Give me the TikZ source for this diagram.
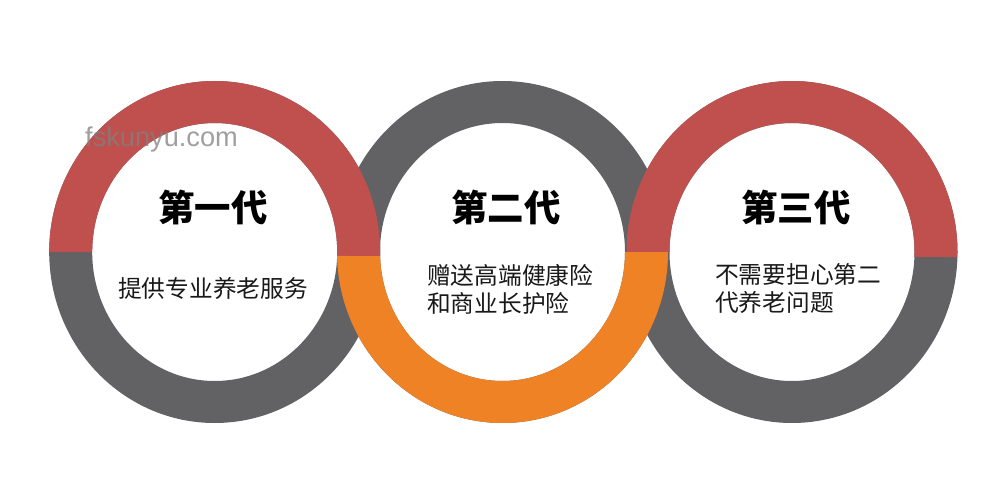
\documentclass[tikz,border=0pt]{standalone}
\usepackage{fontspec}
\setmainfont{Noto Sans CJK SC}
\newfontfamily\wmfont{Liberation Sans}
\definecolor{ringred}{HTML}{C0504D}
\definecolor{ringgray}{HTML}{626264}
\definecolor{ringorange}{HTML}{EE8224}
\tikzset{
  title/.style={font=\fontsize{36.4}{36.4}\selectfont\bfseries,text=black,inner sep=0pt,anchor=center},
  body/.style={font=\fontsize{23.7}{28}\selectfont,text=black!90,inner sep=0pt,align=left,anchor=west},
  wm/.style={font=\wmfont\fontsize{27.2}{28}\selectfont,text=black!50,text opacity=.75,inner sep=0pt,anchor=base west},
}
% full gray ring: centre x
\newcommand{\grayring}[1]{\fill[ringgray,even odd rule,shift={(#1pt,231pt)}] (0,0) ellipse [x radius=165.5pt,y radius=171pt] (0,0) ellipse [x radius=122.5pt,y radius=129pt];}
% segment: colour, centre x, outer start, outer end, inner start, inner end
\newcommand{\ringseg}[6]{\fill[#1,shift={(#2pt,231pt)}] (#3:165.5pt and 171pt) arc[start angle=#3,end angle=#4,x radius=165.5pt,y radius=171pt] -- (#5:122.5pt and 129pt) arc[start angle=#5,end angle=#6,x radius=122.5pt,y radius=129pt] -- cycle;}
\begin{document}
\begin{tikzpicture}[x=1pt,y=1pt]
\useasboundingbox (0,0) rectangle (999,483);
\fill[white] (0,0) rectangle (999,483);
\grayring{502.5}
\grayring{214.7}
\grayring{792}
\ringseg{ringred}{214.7}{180}{-1.34}{-1.78}{180}
\ringseg{ringred}{792}{180}{-1.68}{-2.2}{180}
\ringseg{ringorange}{502.5}{181.34}{360}{360}{181.78}
\node[title] (t1) at (213,275) {第一代};
\node[title] (t2) at (506,275) {第二代};
\node[title] (t3) at (796,275) {第三代};
\node[body] (b1) at (118,195) {提供专业养老服务};
\node[body] (b2) at (427,194) {赠送高端健康险\\和商业长护险};
\node[body] (b3) at (715,194) {不需要担心第二\\代养老问题};
\node[wm] (w) at (85,337) {fskunyu.com};
\end{tikzpicture}
\end{document}
